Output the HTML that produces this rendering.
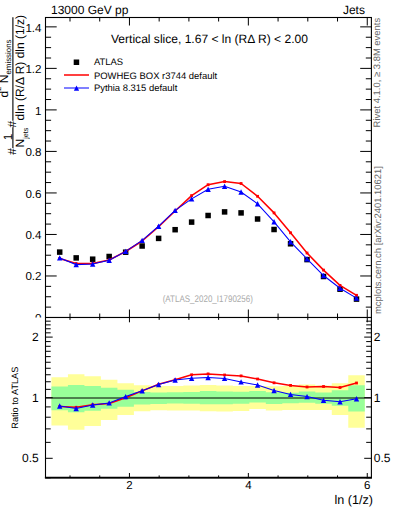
<!DOCTYPE html>
<html><head><meta charset="utf-8"><style>html,body{margin:0;padding:0;width:393px;height:512px;overflow:hidden;background:#fff}</style></head>
<body><svg width="393" height="512" viewBox="0 0 393 512" style="position:absolute;left:0;top:0;text-rendering:geometricPrecision"><rect width="393" height="512" fill="#fff"/><text x="51" y="13.7" font-size="12" font-family="'Liberation Sans', sans-serif">13000 GeV pp</text><text x="364.9" y="13.6" font-size="12" text-anchor="end" font-family="'Liberation Sans', sans-serif">Jets</text><text x="41.5" y="321.60" font-size="11.6" text-anchor="end" font-family="'Liberation Sans', sans-serif">0</text><text x="41.5" y="280.08" font-size="11.6" text-anchor="end" font-family="'Liberation Sans', sans-serif">0.2</text><text x="41.5" y="239.46" font-size="11.6" text-anchor="end" font-family="'Liberation Sans', sans-serif">0.4</text><text x="41.5" y="197.94" font-size="11.6" text-anchor="end" font-family="'Liberation Sans', sans-serif">0.6</text><text x="41.5" y="156.42" font-size="11.6" text-anchor="end" font-family="'Liberation Sans', sans-serif">0.8</text><text x="41.5" y="114.90" font-size="11.6" text-anchor="end" font-family="'Liberation Sans', sans-serif">1</text><text x="41.5" y="73.38" font-size="11.6" text-anchor="end" font-family="'Liberation Sans', sans-serif">1.2</text><text x="41.5" y="31.86" font-size="11.6" text-anchor="end" font-family="'Liberation Sans', sans-serif">1.4</text><path d="M45.5 317.50h11.2M371.4 317.50h-11.2M45.5 307.12h5.6M371.4 307.12h-5.6M45.5 296.74h5.6M371.4 296.74h-5.6M45.5 286.36h5.6M371.4 286.36h-5.6M45.5 275.98h11.2M371.4 275.98h-11.2M45.5 265.60h5.6M371.4 265.60h-5.6M45.5 255.22h5.6M371.4 255.22h-5.6M45.5 244.84h5.6M371.4 244.84h-5.6M45.5 234.46h11.2M371.4 234.46h-11.2M45.5 224.08h5.6M371.4 224.08h-5.6M45.5 213.70h5.6M371.4 213.70h-5.6M45.5 203.32h5.6M371.4 203.32h-5.6M45.5 192.94h11.2M371.4 192.94h-11.2M45.5 182.56h5.6M371.4 182.56h-5.6M45.5 172.18h5.6M371.4 172.18h-5.6M45.5 161.80h5.6M371.4 161.80h-5.6M45.5 151.42h11.2M371.4 151.42h-11.2M45.5 141.04h5.6M371.4 141.04h-5.6M45.5 130.66h5.6M371.4 130.66h-5.6M45.5 120.28h5.6M371.4 120.28h-5.6M45.5 109.90h11.2M371.4 109.90h-11.2M45.5 99.52h5.6M371.4 99.52h-5.6M45.5 89.14h5.6M371.4 89.14h-5.6M45.5 78.76h5.6M371.4 78.76h-5.6M45.5 68.38h11.2M371.4 68.38h-11.2M45.5 58.00h5.6M371.4 58.00h-5.6M45.5 47.62h5.6M371.4 47.62h-5.6M45.5 37.24h5.6M371.4 37.24h-5.6M45.5 26.86h11.2M371.4 26.86h-11.2M70.00 17.5v4M70.00 317.5v-4M99.72 17.5v4M99.72 317.5v-4M129.45 17.5v8M129.45 317.5v-8M159.17 17.5v4M159.17 317.5v-4M188.90 17.5v4M188.90 317.5v-4M218.62 17.5v4M218.62 317.5v-4M248.35 17.5v8M248.35 317.5v-8M278.07 17.5v4M278.07 317.5v-4M307.80 17.5v4M307.80 317.5v-4M337.52 17.5v4M337.52 317.5v-4M367.25 17.5v8M367.25 317.5v-8" stroke="#000" stroke-width="1" fill="none"/><rect x="56.95" y="249.35" width="5.5" height="5.5" fill="#000"/><rect x="73.44" y="255.15" width="5.5" height="5.5" fill="#000"/><rect x="89.92" y="256.45" width="5.5" height="5.5" fill="#000"/><rect x="106.41" y="253.75" width="5.5" height="5.5" fill="#000"/><rect x="122.91" y="249.45" width="5.5" height="5.5" fill="#000"/><rect x="139.39" y="243.25" width="5.5" height="5.5" fill="#000"/><rect x="155.88" y="235.65" width="5.5" height="5.5" fill="#000"/><rect x="172.38" y="226.95" width="5.5" height="5.5" fill="#000"/><rect x="188.87" y="219.35" width="5.5" height="5.5" fill="#000"/><rect x="205.35" y="212.75" width="5.5" height="5.5" fill="#000"/><rect x="221.84" y="209.15" width="5.5" height="5.5" fill="#000"/><rect x="238.33" y="210.15" width="5.5" height="5.5" fill="#000"/><rect x="254.82" y="216.25" width="5.5" height="5.5" fill="#000"/><rect x="271.31" y="226.75" width="5.5" height="5.5" fill="#000"/><rect x="287.81" y="241.05" width="5.5" height="5.5" fill="#000"/><rect x="304.29" y="256.85" width="5.5" height="5.5" fill="#000"/><rect x="320.78" y="273.75" width="5.5" height="5.5" fill="#000"/><rect x="337.27" y="286.45" width="5.5" height="5.5" fill="#000"/><rect x="353.76" y="296.35" width="5.5" height="5.5" fill="#000"/><polyline points="59.70,258.40 76.19,263.60 92.67,263.60 109.16,260.00 125.66,251.50 142.14,241.00 158.63,226.70 175.12,211.00 191.62,195.60 208.10,184.70 224.59,181.60 241.08,183.50 257.57,196.30 274.06,212.90 290.56,232.80 307.04,253.00 323.53,270.10 340.02,285.40 356.51,295.30" fill="none" stroke="#ff0000" stroke-width="1.55" stroke-linejoin="round"/><rect x="58.30" y="257.00" width="2.8" height="2.8" fill="#ff0000"/><rect x="74.78" y="262.20" width="2.8" height="2.8" fill="#ff0000"/><rect x="91.27" y="262.20" width="2.8" height="2.8" fill="#ff0000"/><rect x="107.76" y="258.60" width="2.8" height="2.8" fill="#ff0000"/><rect x="124.25" y="250.10" width="2.8" height="2.8" fill="#ff0000"/><rect x="140.74" y="239.60" width="2.8" height="2.8" fill="#ff0000"/><rect x="157.23" y="225.30" width="2.8" height="2.8" fill="#ff0000"/><rect x="173.72" y="209.60" width="2.8" height="2.8" fill="#ff0000"/><rect x="190.22" y="194.20" width="2.8" height="2.8" fill="#ff0000"/><rect x="206.70" y="183.30" width="2.8" height="2.8" fill="#ff0000"/><rect x="223.19" y="180.20" width="2.8" height="2.8" fill="#ff0000"/><rect x="239.68" y="182.10" width="2.8" height="2.8" fill="#ff0000"/><rect x="256.18" y="194.90" width="2.8" height="2.8" fill="#ff0000"/><rect x="272.67" y="211.50" width="2.8" height="2.8" fill="#ff0000"/><rect x="289.16" y="231.40" width="2.8" height="2.8" fill="#ff0000"/><rect x="305.64" y="251.60" width="2.8" height="2.8" fill="#ff0000"/><rect x="322.13" y="268.70" width="2.8" height="2.8" fill="#ff0000"/><rect x="338.62" y="284.00" width="2.8" height="2.8" fill="#ff0000"/><rect x="355.12" y="293.90" width="2.8" height="2.8" fill="#ff0000"/><polyline points="59.70,257.90 76.19,264.60 92.67,264.00 109.16,260.30 125.66,251.40 142.14,240.40 158.63,226.20 175.12,210.40 191.62,198.90 208.10,189.30 224.59,186.20 241.08,192.00 257.57,203.80 274.06,221.80 290.56,241.80 307.04,258.90 323.53,275.50 340.02,288.20 356.51,298.10" fill="none" stroke="#0000ff" stroke-width="1.05"/><path d="M59.70 255.20L62.40 260.60L56.99 260.60Z" fill="#0000ff"/><path d="M76.19 261.90L78.89 267.30L73.48 267.30Z" fill="#0000ff"/><path d="M92.67 261.30L95.38 266.70L89.97 266.70Z" fill="#0000ff"/><path d="M109.16 257.60L111.86 263.00L106.46 263.00Z" fill="#0000ff"/><path d="M125.66 248.70L128.35 254.10L122.95 254.10Z" fill="#0000ff"/><path d="M142.14 237.70L144.84 243.10L139.44 243.10Z" fill="#0000ff"/><path d="M158.63 223.50L161.33 228.90L155.94 228.90Z" fill="#0000ff"/><path d="M175.12 207.70L177.82 213.10L172.43 213.10Z" fill="#0000ff"/><path d="M191.62 196.20L194.31 201.60L188.92 201.60Z" fill="#0000ff"/><path d="M208.10 186.60L210.80 192.00L205.40 192.00Z" fill="#0000ff"/><path d="M224.59 183.50L227.29 188.90L221.89 188.90Z" fill="#0000ff"/><path d="M241.08 189.30L243.78 194.70L238.38 194.70Z" fill="#0000ff"/><path d="M257.57 201.10L260.27 206.50L254.88 206.50Z" fill="#0000ff"/><path d="M274.06 219.10L276.76 224.50L271.37 224.50Z" fill="#0000ff"/><path d="M290.56 239.10L293.25 244.50L287.86 244.50Z" fill="#0000ff"/><path d="M307.04 256.20L309.74 261.60L304.34 261.60Z" fill="#0000ff"/><path d="M323.53 272.80L326.23 278.20L320.83 278.20Z" fill="#0000ff"/><path d="M340.02 285.50L342.72 290.90L337.32 290.90Z" fill="#0000ff"/><path d="M356.51 295.40L359.21 300.80L353.81 300.80Z" fill="#0000ff"/><text x="111" y="43.1" font-size="12.05" font-family="'Liberation Sans', sans-serif">Vertical slice, 1.67 &lt; ln (RΔ R) &lt; 2.00</text><rect x="73.7" y="59.5" width="5.5" height="5.5" fill="#000"/><path d="M64 75H89" stroke="#ff0000" stroke-width="1.5"/><path d="M64 88H89" stroke="#0000ff" stroke-width="1"/><path d="M76.50 85.60L79.10 90.80L73.90 90.80Z" fill="#0000ff"/><text x="93.9" y="65.2" font-size="9.45" font-family="'Liberation Sans', sans-serif">ATLAS</text><text x="93.9" y="78.5" font-size="9.45" font-family="'Liberation Sans', sans-serif">POWHEG BOX r3744 default</text><text x="93.9" y="90.8" font-size="9.45" font-family="'Liberation Sans', sans-serif">Pythia 8.315 default</text><text transform="translate(162.7 302.2) scale(1 1.2)" font-size="8" fill="#aaa" font-family="'Liberation Sans', sans-serif">(ATLAS_2020_I1790256)</text><rect x="45.5" y="17.5" width="325.90" height="300.0" fill="none" stroke="#000" stroke-width="1.1"/><rect x="0" y="317.5" width="45.0" height="194.5" fill="#fff"/><rect x="45.5" y="317.5" width="325.90" height="160.30" fill="#fff"/><path d="M51.45 377.2L67.94 377.2L67.94 374.2L84.43 374.2L84.43 376.2L100.92 376.2L100.92 379.7L117.41 379.7L117.41 383.3L133.90 383.3L133.90 385.3L150.39 385.3L150.39 386L166.88 386L166.88 386L183.37 386L183.37 385.5L199.86 385.5L199.86 385.1L216.35 385.1L216.35 385.5L232.84 385.5L232.84 386L249.33 386L249.33 386L265.82 386L265.82 386.2L282.31 386.2L282.31 386L298.80 386L298.80 384.4L315.29 384.4L315.29 385.4L331.78 385.4L331.78 383.2L348.27 383.2L348.27 375.2L364.76 375.2L364.76 427.8L348.27 427.8L348.27 415L331.78 415L331.78 409.9L315.29 409.9L315.29 409.9L298.80 409.9L298.80 410L282.31 410L282.31 410.6L265.82 410.6L265.82 409L249.33 409L249.33 411L232.84 411L232.84 411.5L216.35 411.5L216.35 411.3L199.86 411.3L199.86 410.5L183.37 410.5L183.37 410.6L166.88 410.6L166.88 410.3L150.39 410.3L150.39 411.2L133.90 411.2L133.90 415L117.41 415L117.41 420L100.92 420L100.92 426L84.43 426L84.43 429.7L67.94 429.7L67.94 425.6L51.45 425.6Z" fill="#ffff99"/><path d="M51.45 386.4L67.94 386.4L67.94 385L84.43 385L84.43 386L100.92 386L100.92 387.8L117.41 387.8L117.41 389.8L133.90 389.8L133.90 391.9L150.39 391.9L150.39 392.5L166.88 392.5L166.88 392.3L183.37 392.3L183.37 391.9L199.86 391.9L199.86 391L216.35 391L216.35 391.4L232.84 391.4L232.84 391.7L249.33 391.7L249.33 391L265.82 391L265.82 392.2L282.31 392.2L282.31 392.8L298.80 392.8L298.80 391.6L315.29 391.6L315.29 392.6L331.78 392.6L331.78 390.3L348.27 390.3L348.27 385.2L364.76 385.2L364.76 411.5L348.27 411.5L348.27 405.8L331.78 405.8L331.78 403.8L315.29 403.8L315.29 402.7L298.80 402.7L298.80 403.2L282.31 403.2L282.31 404L265.82 404L265.82 402.5L249.33 402.5L249.33 403.8L232.84 403.8L232.84 404.2L216.35 404.2L216.35 404.2L199.86 404.2L199.86 403.8L183.37 403.8L183.37 403.5L166.88 403.5L166.88 403.9L150.39 403.9L150.39 404.4L133.90 404.4L133.90 406.7L117.41 406.7L117.41 408.8L100.92 408.8L100.92 410.8L84.43 410.8L84.43 412.2L67.94 412.2L67.94 410.2L51.45 410.2Z" fill="#99ff99"/><path d="M45.5 398.0H371.4" stroke="#000" stroke-width="1.0"/><polyline points="59.70,406.50 76.19,407.30 92.67,404.70 109.16,403.40 125.66,397.80 142.14,390.90 158.63,384.30 175.12,379.80 191.62,374.80 208.10,373.90 224.59,375.00 241.08,375.90 257.57,379.00 274.06,382.80 290.56,385.40 307.04,387.00 323.53,386.50 340.02,387.50 356.51,383.00" fill="none" stroke="#ff0000" stroke-width="1.55" stroke-linejoin="round"/><rect x="58.30" y="405.10" width="2.8" height="2.8" fill="#ff0000"/><rect x="74.78" y="405.90" width="2.8" height="2.8" fill="#ff0000"/><rect x="91.27" y="403.30" width="2.8" height="2.8" fill="#ff0000"/><rect x="107.76" y="402.00" width="2.8" height="2.8" fill="#ff0000"/><rect x="124.25" y="396.40" width="2.8" height="2.8" fill="#ff0000"/><rect x="140.74" y="389.50" width="2.8" height="2.8" fill="#ff0000"/><rect x="157.23" y="382.90" width="2.8" height="2.8" fill="#ff0000"/><rect x="173.72" y="378.40" width="2.8" height="2.8" fill="#ff0000"/><rect x="190.22" y="373.40" width="2.8" height="2.8" fill="#ff0000"/><rect x="206.70" y="372.50" width="2.8" height="2.8" fill="#ff0000"/><rect x="223.19" y="373.60" width="2.8" height="2.8" fill="#ff0000"/><rect x="239.68" y="374.50" width="2.8" height="2.8" fill="#ff0000"/><rect x="256.18" y="377.60" width="2.8" height="2.8" fill="#ff0000"/><rect x="272.67" y="381.40" width="2.8" height="2.8" fill="#ff0000"/><rect x="289.16" y="384.00" width="2.8" height="2.8" fill="#ff0000"/><rect x="305.64" y="385.60" width="2.8" height="2.8" fill="#ff0000"/><rect x="322.13" y="385.10" width="2.8" height="2.8" fill="#ff0000"/><rect x="338.62" y="386.10" width="2.8" height="2.8" fill="#ff0000"/><rect x="355.12" y="381.60" width="2.8" height="2.8" fill="#ff0000"/><polyline points="59.70,406.00 76.19,408.50 92.67,405.00 109.16,402.90 125.66,396.60 142.14,390.70 158.63,384.50 175.12,380.00 191.62,378.30 208.10,377.50 224.59,378.40 241.08,381.90 257.57,385.00 274.06,390.50 290.56,394.40 307.04,396.60 323.53,400.30 340.02,401.70 356.51,398.70" fill="none" stroke="#0000ff" stroke-width="1.05"/><path d="M59.70 403.30L62.40 408.70L56.99 408.70Z" fill="#0000ff"/><path d="M76.19 405.80L78.89 411.20L73.48 411.20Z" fill="#0000ff"/><path d="M92.67 402.30L95.38 407.70L89.97 407.70Z" fill="#0000ff"/><path d="M109.16 400.20L111.86 405.60L106.46 405.60Z" fill="#0000ff"/><path d="M125.66 393.90L128.35 399.30L122.95 399.30Z" fill="#0000ff"/><path d="M142.14 388.00L144.84 393.40L139.44 393.40Z" fill="#0000ff"/><path d="M158.63 381.80L161.33 387.20L155.94 387.20Z" fill="#0000ff"/><path d="M175.12 377.30L177.82 382.70L172.43 382.70Z" fill="#0000ff"/><path d="M191.62 375.60L194.31 381.00L188.92 381.00Z" fill="#0000ff"/><path d="M208.10 374.80L210.80 380.20L205.40 380.20Z" fill="#0000ff"/><path d="M224.59 375.70L227.29 381.10L221.89 381.10Z" fill="#0000ff"/><path d="M241.08 379.20L243.78 384.60L238.38 384.60Z" fill="#0000ff"/><path d="M257.57 382.30L260.27 387.70L254.88 387.70Z" fill="#0000ff"/><path d="M274.06 387.80L276.76 393.20L271.37 393.20Z" fill="#0000ff"/><path d="M290.56 391.70L293.25 397.10L287.86 397.10Z" fill="#0000ff"/><path d="M307.04 393.90L309.74 399.30L304.34 399.30Z" fill="#0000ff"/><path d="M323.53 397.60L326.23 403.00L320.83 403.00Z" fill="#0000ff"/><path d="M340.02 399.00L342.72 404.40L337.32 404.40Z" fill="#0000ff"/><path d="M356.51 396.00L359.21 401.40L353.81 401.40Z" fill="#0000ff"/><path d="M45.5 477.81h5.2M371.4 477.81h-5.2M45.5 458.30h7.2M371.4 458.30h-7.2M45.5 442.36h5.2M371.4 442.36h-5.2M45.5 428.88h5.2M371.4 428.88h-5.2M45.5 417.21h5.2M371.4 417.21h-5.2M45.5 406.91h5.2M371.4 406.91h-5.2M45.5 397.70h7.2M371.4 397.70h-7.2M45.5 389.37h5.2M371.4 389.37h-5.2M45.5 381.76h5.2M371.4 381.76h-5.2M45.5 374.76h5.2M371.4 374.76h-5.2M45.5 368.28h5.2M371.4 368.28h-5.2M45.5 362.25h5.2M371.4 362.25h-5.2M45.5 356.61h5.2M371.4 356.61h-5.2M45.5 351.31h5.2M371.4 351.31h-5.2M45.5 346.31h5.2M371.4 346.31h-5.2M45.5 341.59h5.2M371.4 341.59h-5.2M45.5 337.10h7.2M371.4 337.10h-7.2M45.5 332.84h5.2M371.4 332.84h-5.2M45.5 328.77h5.2M371.4 328.77h-5.2M45.5 324.88h5.2M371.4 324.88h-5.2M45.5 321.16h5.2M371.4 321.16h-5.2M70.00 317.5v2.4M70.00 477.8v-2.4M99.72 317.5v2.4M99.72 477.8v-2.4M129.45 317.5v4.8M129.45 477.8v-4.8M159.17 317.5v2.4M159.17 477.8v-2.4M188.90 317.5v2.4M188.90 477.8v-2.4M218.62 317.5v2.4M218.62 477.8v-2.4M248.35 317.5v4.8M248.35 477.8v-4.8M278.07 317.5v2.4M278.07 477.8v-2.4M307.80 317.5v2.4M307.80 477.8v-2.4M337.52 317.5v2.4M337.52 477.8v-2.4M367.25 317.5v4.8M367.25 477.8v-4.8" stroke="#000" stroke-width="1" fill="none"/><rect x="45.5" y="317.5" width="325.90" height="160.30" fill="none" stroke="#000" stroke-width="1.1"/><path d="M44.9 477.60H372.00" stroke="#000" stroke-width="1.8"/><text x="38.8" y="462.30" font-size="12" text-anchor="end" font-family="'Liberation Sans', sans-serif">0.5</text><text x="373.8" y="462.30" font-size="12" font-family="'Liberation Sans', sans-serif">0.5</text><text x="38.8" y="401.70" font-size="12" text-anchor="end" font-family="'Liberation Sans', sans-serif">1</text><text x="373.8" y="401.70" font-size="12" font-family="'Liberation Sans', sans-serif">1</text><text x="38.8" y="341.10" font-size="12" text-anchor="end" font-family="'Liberation Sans', sans-serif">2</text><text x="373.8" y="341.10" font-size="12" font-family="'Liberation Sans', sans-serif">2</text><text x="129.45" y="489.4" font-size="11.5" text-anchor="middle" font-family="'Liberation Sans', sans-serif">2</text><text x="248.35" y="489.4" font-size="11.5" text-anchor="middle" font-family="'Liberation Sans', sans-serif">4</text><text x="367.25" y="489.4" font-size="11.5" text-anchor="middle" font-family="'Liberation Sans', sans-serif">6</text><text x="373" y="503.7" font-size="12.6" text-anchor="end" font-family="'Liberation Sans', sans-serif">ln (1/z)</text><text transform="translate(17.7 428.7) rotate(-90)" font-size="9.18" font-family="'Liberation Sans', sans-serif">Ratio to ATLAS</text><text transform="translate(380.0 127.4) rotate(-90)" font-size="9.45" fill="#666" font-family="'Liberation Sans', sans-serif">Rivet 4.1.0, ≥ 3.8M events</text><text transform="translate(380.9 314) rotate(-90)" font-size="9.45" fill="#666" font-family="'Liberation Sans', sans-serif">mcplots.cern.ch [arXiv:2401.10621]</text><path d="M12.9 17.3V120.7M12.9 127.3V148" stroke="#000" stroke-width="1.1"/><text transform="translate(24.1 67.7) rotate(-90)" font-size="12" text-anchor="middle" font-family="'Liberation Sans', sans-serif">dln (R/Δ R) dln (1/z)</text><text transform="translate(7.6 97.4) rotate(-90)" font-size="12" font-family="'Liberation Sans', sans-serif">d<tspan font-size="7.5" dy="-6.3">2</tspan><tspan dy="6.3"> N</tspan><tspan font-size="7.9" dy="3.1">emissions</tspan></text><text transform="translate(15.6 127.4) rotate(-90)" font-size="12" font-family="'Liberation Sans', sans-serif">#</text><text transform="translate(15.6 154.8) rotate(-90)" font-size="12" font-family="'Liberation Sans', sans-serif">#</text><text transform="translate(11.9 140.2) rotate(-90)" font-size="12" font-family="'Liberation Sans', sans-serif">1</text><text transform="translate(23.7 147.5) rotate(-90)" font-size="12" font-family="'Liberation Sans', sans-serif">N<tspan font-size="7.2" dy="4.2">jets</tspan></text></svg></body></html>
